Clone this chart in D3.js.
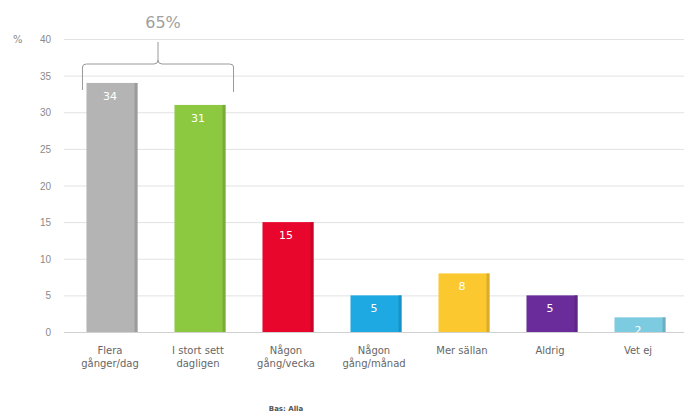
<!DOCTYPE html>
<html>
<head>
<meta charset="utf-8">
<script src="https://cdn.jsdelivr.net/npm/d3@7"></script>
<style>
  body { margin: 0; background: #fff; }
  svg { display: block; font-family: "DejaVu Sans", Verdana, sans-serif; }
</style>
</head>
<body>
<div class="C"></div>
<script>
// data
var categories = ['Flera\ngånger/dag', 'I stort sett\ndagligen', 'Någon\ngång/vecka', 'Någon\ngång/månad', 'Mer sällan', 'Aldrig', 'Vet ej'];
var values = [34, 31, 15, 5, 8, 5, 2];
var colors = ['#b4b4b4', '#8dc841', '#e8062d', '#1ea9e3', '#fcc830', '#6a2c9a', '#7ccbe0'];
var yTicks = [0, 5, 10, 15, 20, 25, 30, 35, 40];
var bracketLabel = '65%';
var baseText = 'Bas: Alla';

var width = 684, height = 414;
var svg = d3.select('.C').append('svg').attr('width', width).attr('height', height);

var x = d3.scaleBand().domain(categories).range([68, 684]).paddingInner(0.42).paddingOuter(0.21);
var y = d3.scaleLinear().domain([0, 40]).range([332, 39]);

// grid
svg.append('g').selectAll('line').data(yTicks).enter().append('line')
    .attr('x1', 64).attr('x2', 684)
    .attr('y1', function (d) { return y(d) + 0.5; })
    .attr('y2', function (d) { return y(d) + 0.5; })
    .style('stroke', function (d) { return d === 0 ? '#d0d0d0' : '#e2e2e2'; })
    .style('stroke-width', 1);

var yAxis = svg.append('g').attr('transform', 'translate(51,0)')
    .call(d3.axisLeft(y).tickValues(yTicks).tickSize(0).tickPadding(0));
yAxis.select('.domain').remove();
yAxis.selectAll('text').style('font-size', '10px').style('fill', '#8a8a8a').attr('dy', '0.35em');

svg.append('text').text('%').attr('x', 13).attr('y', y(40) + 4)
    .style('font-size', '10px').style('fill', '#8a8a8a');

// bars
var bw = x.bandwidth();
var bars = svg.append('g').selectAll('g').data(values).enter().append('g');
bars.append('rect')
    .attr('x', function (d, i) { return x(categories[i]); })
    .attr('y', function (d) { return y(d); })
    .attr('width', bw)
    .attr('height', function (d) { return y(0) - y(d); })
    .style('fill', function (d, i) { return colors[i]; });
// shadow strip on right side
bars.append('rect')
    .attr('x', function (d, i) { return x(categories[i]) + bw - 3; })
    .attr('y', function (d) { return y(d); })
    .attr('width', 3)
    .attr('height', function (d) { return y(0) - y(d); })
    .style('fill', function (d, i) { return d3.color(colors[i]).darker(0.6); })
    .style('opacity', 0.7);
bars.append('text')
    .attr('x', function (d, i) { return x(categories[i]) + bw / 2 - 2; })
    .attr('y', function (d) { return y(d) + 17; })
    .attr('text-anchor', 'middle')
    .text(function (d) { return d; })
    .style('font-size', '11px').style('fill', '#fff');

// category labels
var labels = svg.append('g').selectAll('text').data(categories).enter().append('text')
    .attr('x', function (d) { return x(d) + bw / 2 - 2; })
    .attr('y', 354)
    .attr('text-anchor', 'middle')
    .style('font-size', '10px').style('fill', '#666');
labels.each(function (d) {
    var parts = d.split('\n');
    var t = d3.select(this);
    parts.forEach(function (p, k) {
        t.append('tspan').attr('x', t.attr('x')).attr('dy', k === 0 ? 0 : '1.25em').text(p);
    });
});

// bracket over first two bars
var bx1 = x(categories[0]) - 4, bx2 = x(categories[1]) + bw + 8;
var by = 64, bmid = (bx1 + bx2) / 2;
svg.append('path')
    .attr('d', 'M' + bx1 + ',' + (by + 26) + ' L' + bx1 + ',' + (by + 3) + ' Q' + bx1 + ',' + by + ' ' + (bx1 + 4) + ',' + by +
        ' L' + (bmid - 4) + ',' + by + ' Q' + bmid + ',' + by + ' ' + bmid + ',' + (by - 4) + ' L' + bmid + ',' + (by - 22) +
        ' M' + bmid + ',' + (by - 4) + ' Q' + bmid + ',' + by + ' ' + (bmid + 4) + ',' + by +
        ' L' + (bx2 - 4) + ',' + by + ' Q' + bx2 + ',' + by + ' ' + bx2 + ',' + (by + 3) + ' L' + bx2 + ',' + (by + 28))
    .style('fill', 'none').style('stroke', '#9a9a9a').style('stroke-width', 1);
svg.append('text').text(bracketLabel).attr('x', bmid + 5).attr('y', 28)
    .attr('text-anchor', 'middle')
    .style('font-size', '16px').style('fill', '#a0a0a0');

svg.append('text').text(baseText).attr('x', 286).attr('y', 411)
    .attr('text-anchor', 'middle')
    .style('font-size', '7px').style('font-weight', 'bold').style('fill', '#555');
</script>
</body>
</html>
